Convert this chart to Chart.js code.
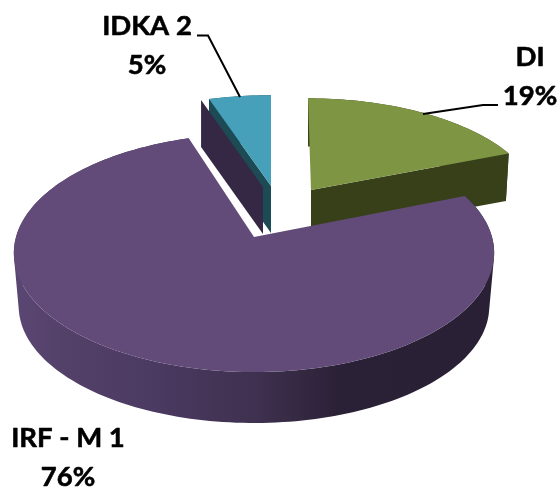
<!DOCTYPE html>
<html>
<head>
<meta charset="utf-8">
<style>html,body{margin:0;padding:0;background:#fff}canvas{display:block}</style>
<script src="https://cdn.jsdelivr.net/npm/chart.js@4"></script>
</head>
<body>
<canvas id="c" width="558" height="487"></canvas>
<script>
const categories = ['DI', 'IRF - M 1', 'IDKA 2'];
const shares = [19, 76, 5];
const percentLabels = ['19%', '76%', '5%'];
const topColors = ['#7e9544', '#624b79', '#47a0b9'];

// Perspective view of each exploded slice (the projection of the pie's plane).
const views = [
  {tx: 311, ty: 190, a: 224.5, b: 104, c: 3.4, depth: 47, shrink: 0.985, wall: 'end',   wallColor: '#38401a', sideStops: [[0, '#38401a'], [1, '#38401a']]},
  {tx: 254, ty: 237, a: 238,   b: 117, c: 0,   depth: 54, shrink: 0.98,  wall: null,    wallColor: '#2b2136', sideStops: [[0, '#5a4672'], [0.1, '#54416a'], [0.3, '#4a3960'], [0.5, '#3f3150'], [0.68, '#2b2136'], [1, '#2a2035']]},
  {tx: 271, ty: 186, a: 226,   b: 103, c: 0,   depth: 47, shrink: 1,     wall: 'start', wallColor: '#1c4a55', sideStops: [[0, '#1c4a55'], [1, '#1c4a55']], backWall: {dx: -8, dy: 1, color: '#352845'}}
];
const PERSPECTIVE = -0.134;

const labelBlocks = [
  {index: 2, x: 147, y1: 35, y2: 74},
  {index: 0, x: 530, y1: 66, y2: 105},
  {index: 1, x: 68, y1: 447, y2: 486}
];
const leaders = [
  [[197, 35.5], [208, 35.5], [240, 97]],
  [[498, 105], [483, 105], [423, 114]]
];

function project(view, angle, scale, drop) {
  const u = Math.cos(angle) * scale, v = Math.sin(angle) * scale;
  const w = 1 + PERSPECTIVE * v;
  return [view.tx + (view.a * u + view.c * v) / w, view.ty + view.b * v / w + drop];
}

function signedArea(pts) {
  let s = 0;
  pts.forEach((p, i) => {
    const q = pts[(i + 1) % pts.length];
    s += p[0] * q[1] - q[0] * p[1];
  });
  return s;
}

class Arc3D extends Chart.ArcElement {
  static id = 'arc3d';
  drawSolid(ctx, view) {
    const {startAngle, endAngle} = this.getProps(['startAngle', 'endAngle'], true);
    const steps = Math.max(8, Math.ceil((endAngle - startAngle) * 40));
    const upper = [], lower = [];
    for (let i = 0; i <= steps; i++) {
      const t = startAngle + (endAngle - startAngle) * i / steps;
      upper.push(project(view, t, 1, 0));
      lower.push(project(view, t, view.shrink, view.depth));
    }
    const trace = pts => {
      pts.forEach((p, i) => i ? ctx.lineTo(p[0], p[1]) : ctx.moveTo(p[0], p[1]));
      ctx.closePath();
    };
    const poly = pts => { ctx.beginPath(); trace(pts); };
    const g = ctx.createLinearGradient(view.tx - view.a, 0, view.tx + view.a, 0);
    view.sideStops.forEach(s => g.addColorStop(s[0], s[1]));
    ctx.fillStyle = g;
    ctx.beginPath();
    for (let i = 0; i < steps; i++) {
      const quad = [upper[i], upper[i + 1], lower[i + 1], lower[i]];
      trace(signedArea(quad) < 0 ? quad.reverse() : quad);
    }
    ctx.fill();

    const tip = [view.tx, view.ty];
    const tipLow = [view.tx, view.ty + view.depth];
    if (view.wall) {
      const top = view.wall === 'end' ? upper[steps] : upper[0];
      const low = view.wall === 'end' ? lower[steps] : lower[0];
      ctx.fillStyle = view.wallColor;
      poly([tip, top, low, tipLow]);
      ctx.fill();
      if (view.backWall) {
        const s = view.backWall;
        ctx.fillStyle = s.color;
        poly([tip, top, low, tipLow].map(p => [p[0] + s.dx, p[1] + s.dy]));
        ctx.fill();
      }
    }
    ctx.fillStyle = this.options.backgroundColor;
    poly([tip].concat(upper));
    ctx.fill();
  }
}

class Pie3D extends Chart.PieController {
  static id = 'pie3d';
  static defaults = {dataElementType: 'arc3d'};
  draw() {
    const ctx = this.chart.ctx;
    this._cachedMeta.data.forEach((el, i) => el.drawSolid(ctx, views[i]));
  }
}
Chart.register(Arc3D, Pie3D);

const labelPlugin = {
  id: 'pieLabels',
  afterDatasetsDraw(chart) {
    const ctx = chart.ctx;
    ctx.save();
    ctx.strokeStyle = '#000';
    ctx.lineWidth = 2;
    leaders.forEach(path => {
      ctx.beginPath();
      path.forEach((p, i) => i ? ctx.lineTo(p[0], p[1]) : ctx.moveTo(p[0], p[1]));
      ctx.stroke();
    });
    ctx.fillStyle = '#000';
    ctx.lineWidth = 0.6;
    ctx.lineJoin = 'round';
    ctx.font = 'bold 27.5px Lato, "Open Sans", sans-serif';
    ctx.textAlign = 'center';
    ctx.textBaseline = 'alphabetic';
    labelBlocks.forEach(b => {
      ctx.fillText(categories[b.index], b.x, b.y1);
      ctx.strokeText(categories[b.index], b.x, b.y1);
      ctx.fillText(percentLabels[b.index], b.x, b.y2);
      ctx.strokeText(percentLabels[b.index], b.x, b.y2);
    });
    ctx.restore();
  }
};

new Chart(document.getElementById('c'), {
  type: 'pie3d',
  data: {
    labels: categories,
    datasets: [{data: shares, backgroundColor: topColors, borderWidth: 0}]
  },
  options: {
    responsive: false,
    animation: false,
    plugins: {legend: {display: false}, tooltip: {enabled: false}}
  },
  plugins: [labelPlugin]
});
</script>
</body>
</html>
